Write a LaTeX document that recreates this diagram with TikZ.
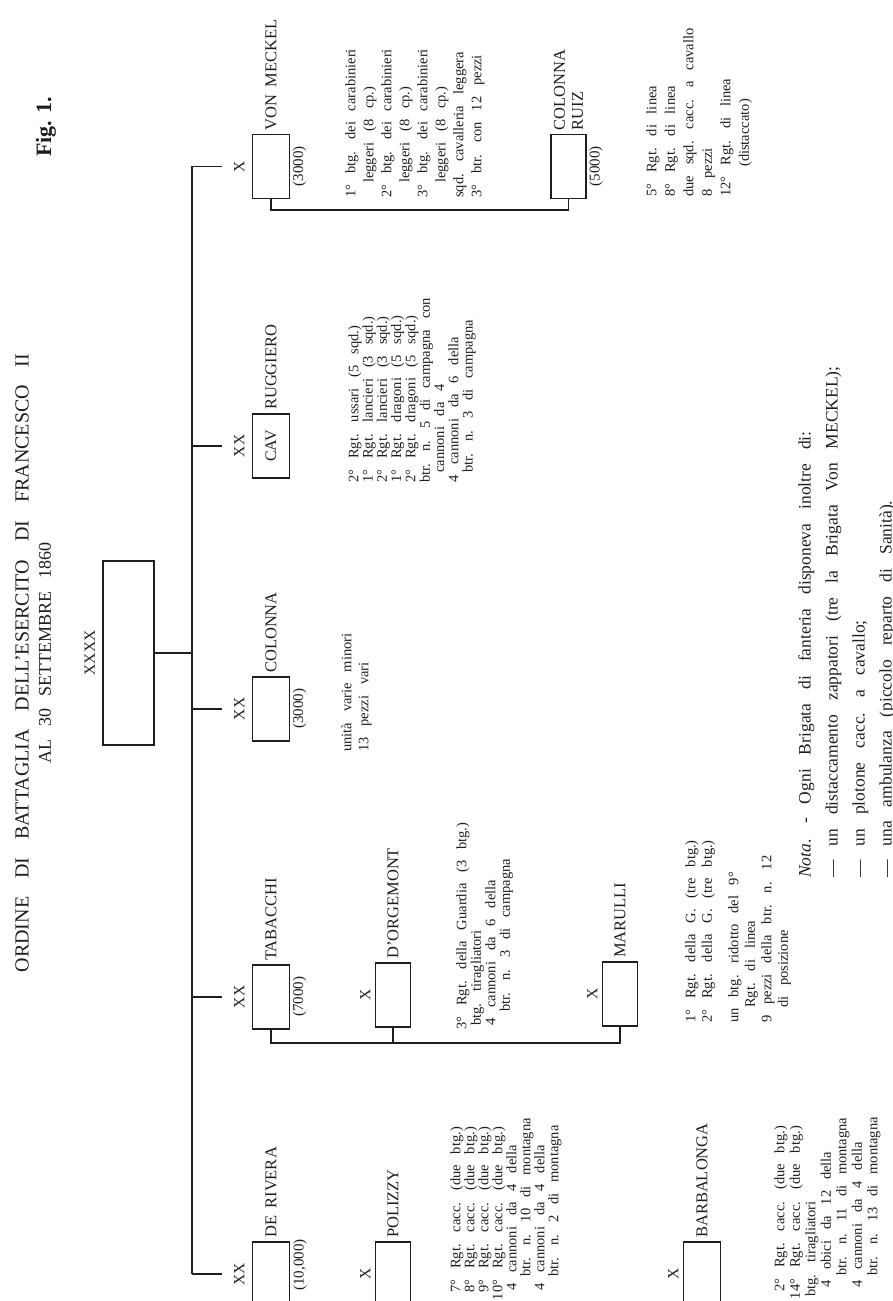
\documentclass[tikz,border=0pt]{standalone}
\usepackage{fontspec}
\setmainfont{Liberation Serif}
\usepackage{tikz}
\usetikzlibrary{positioning, calc}
\definecolor{Ink}{HTML}{1E1E1E}
\tikzset{
    unitbox/.style={rectangle, draw=Ink, line width=1.8pt, minimum width=64pt, minimum height=37pt, inner sep=0pt, text=Ink, font={\fontsize{16}{18}\selectfont}},
    armybox/.style={unitbox, minimum width=184pt, minimum height=51pt},
    echelon/.style={anchor=south, inner xsep=0pt, inner ysep=7pt, text height=15pt, text depth=0pt, text=Ink, font={\fontsize{15.5}{18}\selectfont}},
    unitname/.style={anchor=west, inner xsep=3pt, inner ysep=0pt, align=left, text=Ink, font={\fontsize{16.5}{18}\selectfont\spaceskip=0.45em\relax}},
    strength/.style={anchor=north, inner sep=2pt, text=Ink, font={\fontsize{15}{18}\selectfont}},
    roster/.style={anchor=north west, align=left, inner sep=0pt, text=Ink, font={\fontsize{14.5}{#1}\selectfont\spaceskip=0.75em plus 0.1em\relax}},
    link/.style={draw=Ink, line width=1.8pt},
}

\begin{document}
\begin{tikzpicture}[x=10pt, y=10pt]
    \useasboundingbox (0,0) rectangle (89.3,130.1);
    \clip (0,0) rectangle (89.3,130.1);
    \begin{scope}[rotate=90, transform shape]
        % Titolo
        \node[inner sep=0pt, text=Ink, font={\fontsize{20}{22}\selectfont\spaceskip=0.9em\relax}] (title) at (63.8,-2.2) {ORDINE DI BATTAGLIA DELL'ESERCITO DI FRANCESCO II};
        \node[inner sep=0pt, text=Ink, font={\fontsize{18}{20}\selectfont\spaceskip=0.7em\relax}] (date) at (64.8,-4.5) {AL 30 SETTEMBRE 1860};
        \node[inner sep=0pt, text=Ink, font={\fontsize{22}{24}\selectfont\bfseries}] (fig) at (117.4,-4.6) {Fig. 1.};

        % Armata
        \node[armybox] (army) at (64.8,-12.85) {};
        \node[echelon] (armylab) at (army.north) {XXXX};

        % Divisioni e brigate dipendenti dall'armata
        \node[unitbox] (vm) at (113.45,-27.1) {};
        \node[echelon] (vmlab) at (vm.north) {X};
        \node[unitname] (vmname) at (vm.east) {VON MECKEL};
        \node[strength] (vmstr) at (vm.south) {(3000)};

        \node[unitbox] (cav) at (85.5,-27.1) {CAV};
        \node[echelon] (cavlab) at (cav.north) {XX};
        \node[unitname] (cavname) at (cav.east) {RUGGIERO};

        \node[unitbox] (col) at (59.2,-27.1) {};
        \node[echelon] (collab) at (col.north) {XX};
        \node[unitname] (colname) at (col.east) {COLONNA};
        \node[strength] (colstr) at (col.south) {(3000)};

        \node[unitbox] (tab) at (30.4,-27.1) {};
        \node[echelon] (tablab) at (tab.north) {XX};
        \node[unitname] (tabname) at (tab.east) {TABACCHI};
        \node[strength] (tabstr) at (tab.south) {(7000)};

        \node[unitbox] (der) at (2.7,-27.1) {};
        \node[echelon] (derlab) at (der.north) {XX};
        \node[unitname] (dername) at (der.east) {DE RIVERA};
        \node[strength] (derstr) at (3.6,-29.1) {(10,000)};

        % Brigate (secondo livello)
        \node[unitbox, minimum height=35pt] (ruiz) at (113.45,-56.85) {};
        \node[unitname, font={\fontsize{16.5}{18}\selectfont}] (ruizname) at (ruiz.east) {COLONNA\\RUIZ};
        \node[strength] (ruizstr) at (ruiz.south) {(5000)};

        \node[unitbox, minimum height=35pt] (dorg) at (30.6,-39.3) {};
        \node[echelon, inner ysep=4pt, text height=10pt] (dorglab) at (dorg.north) {X};
        \node[unitname] (dorgname) at (dorg.east) {D'ORGEMONT};

        \node[unitbox, minimum height=35pt] (mar) at (30.7,-62.0) {};
        \node[echelon, inner ysep=4pt, text height=10pt] (marlab) at (mar.north) {X};
        \node[unitname] (marname) at (mar.east) {MARULLI};

        \node[unitbox, minimum height=35pt] (pol) at (2.7,-39.3) {};
        \node[echelon, inner ysep=4pt, text height=10pt] (pollab) at (pol.north) {X};
        \node[unitname] (polname) at (pol.east) {POLIZZY};

        \node[unitbox] (bar) at (2.7,-70.2) {};
        \node[echelon, inner ysep=4pt, text height=10pt] (barlab) at (bar.north) {X};
        \node[unitname] (barname) at (bar.east) {BARBALONGA};

        % Collegamenti
        \coordinate (trunk) at (0,-19.2);
        \draw[link] (army.south) -- (army.south |- trunk);
        \draw[link] (vmlab.north |- trunk) -- (derlab.north |- trunk);
        \foreach \u in {vmlab, cavlab, collab, tablab, derlab}
            \draw[link] (\u.north |- trunk) -- (\u.north);
        \draw[link] (vm.west) -- ++(-1.1,0) |- (ruiz.west);
        \draw[link] (tab.west) -- ++(-1.3,0) coordinate (tabbend) |- (mar.west);
        \draw[link] (dorg.west) -- (dorg.west -| tabbend);

        % Composizione dei reparti
        \node[roster=18] (vmlist) at (110.3,-34.5) {1° btg. dei carabinieri\\
            \hspace*{15pt}leggeri (8 cp.)\\
            2° btg. dei carabinieri\\
            \hspace*{15pt}leggeri (8 cp.)\\
            3° btg. dei carabinieri\\
            \hspace*{15pt}leggeri (8 cp.)\\
            sqd. cavalleria leggera\\
            3° btr. con 12 pezzi};
        \node[roster=14.3] (cavlist) at (81.8,-34.8) {2° Rgt. ussari (5 sqd.)\\
            1° Rgt. lancieri (3 sqd.)\\
            2° Rgt. lancieri (3 sqd.)\\
            1° Rgt. dragoni (5 sqd.)\\
            2° Rgt. dragoni (5 sqd.)\\
            btr. n. 5 di campagna con\\
            \hspace*{10pt}cannoni da 4\\
            4 cannoni da 6 della\\
            \hspace*{10pt}btr. n. 3 di campagna};
        \node[roster=17] (collist) at (54.9,-34.1) {unità varie minori\\
            13 pezzi vari};
        \node[roster=14.5] (dorglist) at (27.1,-45.6) {3° Rgt. della Guardia (3 btg.)\\
            \hspace*{4pt}btg. tiragliatori\\
            \hspace*{4pt}4 cannoni da 6 della\\
            \hspace*{18pt}btr. n. 3 di campagna};
        \node[roster=16.5] (marlist) at (27.8,-68.5) {1° Rgt. della G. (tre btg.)\\
            2° Rgt. della G. (tre btg.)\\[10pt]
            un btg. ridotto del 9°\\
            \hspace*{15pt}Rgt. di linea\\
            9 pezzi della btr. n. 12\\
            \hspace*{15pt}di posizione};
        \node[roster=18.5] (ruizlist) at (110.4,-64.6) {5° Rgt. di linea\\
            8° Rgt. di linea\\
            due sqd. cacc. a cavallo\\
            8 pezzi\\
            12° Rgt. di linea\\
            \hspace*{30pt}(distaccato)};
        \node[roster=14] (pollist) at (0.8,-45.0) {7° Rgt. cacc. (due btg.)\\
            8° Rgt. cacc. (due btg.)\\
            9° Rgt. cacc. (due btg.)\\
            \llap{1}0° Rgt. cacc. (due btg.)\\
            \hspace*{2pt}4 cannoni da 4 della\\
            \hspace*{16pt}btr. n. 10 di montagna\\
            \hspace*{2pt}4 cannoni da 4 della\\
            \hspace*{16pt}btr. n. 2 di montagna};
        \node[roster=15.5] (barlist) at (0.9,-77.4) {2° Rgt. cacc. (due btg.)\\
            \llap{1}4° Rgt. cacc. (due btg.)\\
            \hspace*{-5pt}btg. tiragliatori\\
            \hspace*{4pt}4 obici da 12 della\\
            \hspace*{16pt}btr. n. 11 di montagna\\
            \hspace*{4pt}4 cannoni da 4 della\\
            \hspace*{16pt}btr. n. 13 di montagna};

        % Nota
        \node[anchor=north west, align=left, inner sep=0pt, text=Ink, font={\fontsize{17.5}{27}\selectfont\spaceskip=0.8em plus 0.1em\relax}] (nota) at (42.3,-79.8) {\textit{Nota}. - Ogni Brigata di fanteria disponeva inoltre di:\\
            — un distaccamento zappatori (tre la Brigata Von MECKEL);\\
            — un plotone cacc. a cavallo;\\
            — una ambulanza (piccolo reparto di Sanità).};
    \end{scope}
\end{tikzpicture}
\end{document}
